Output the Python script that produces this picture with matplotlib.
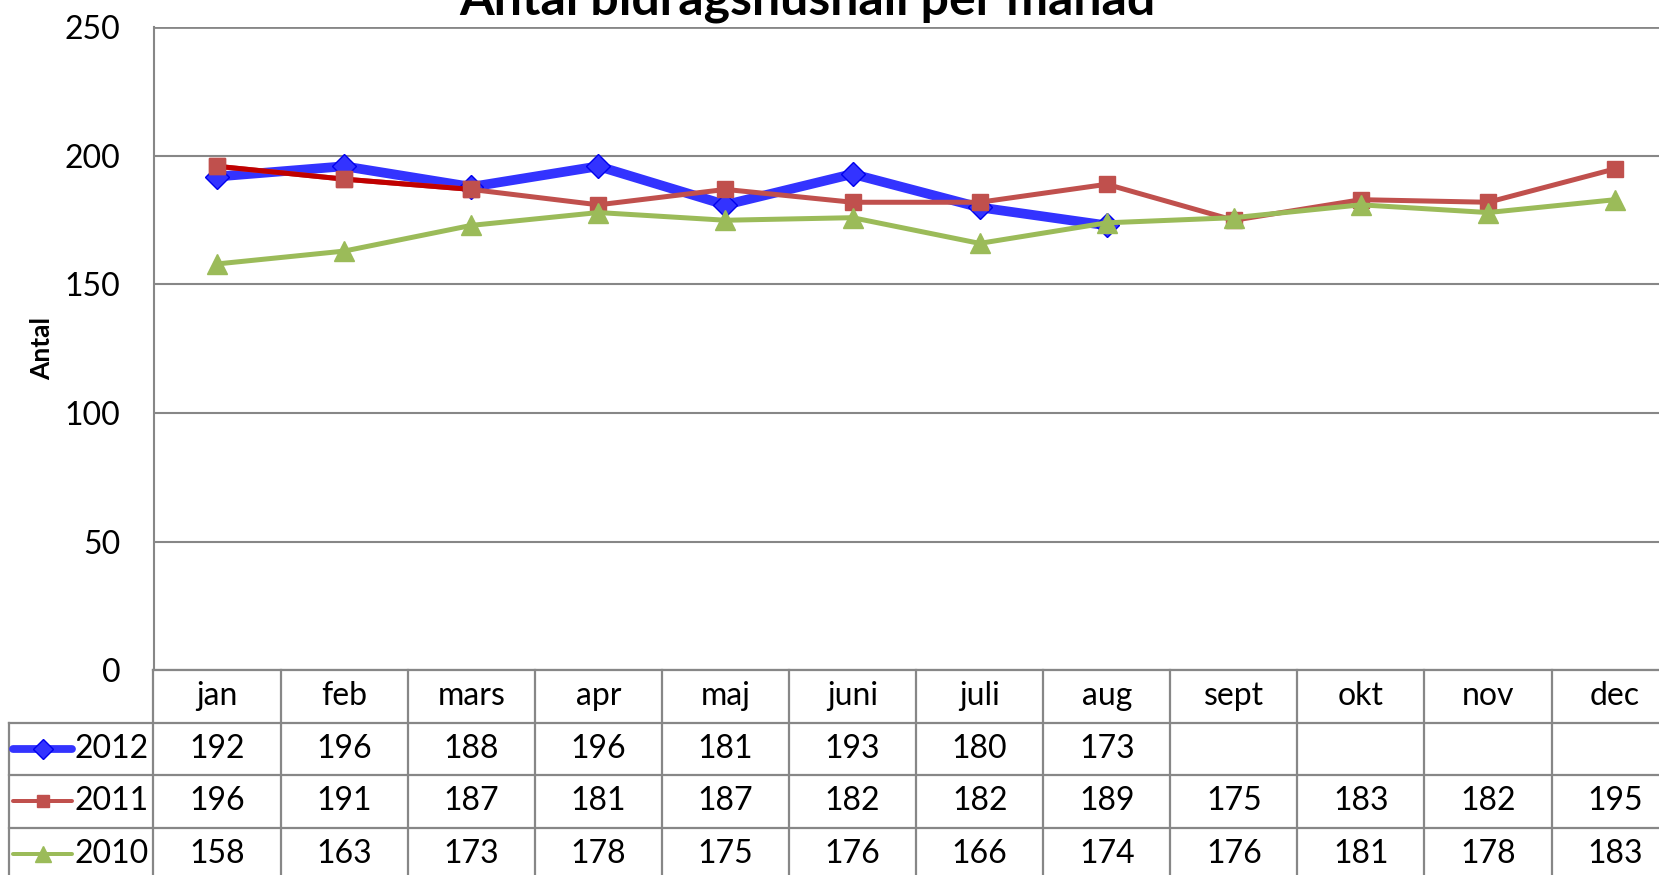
import numpy as np
import matplotlib
matplotlib.use("Agg")
import matplotlib.pyplot as plt

# data
manader = ["jan", "feb", "mars", "apr", "maj", "juni", "juli", "aug", "sept", "okt", "nov", "dec"]
ar = ["2012", "2011", "2010"]
v2012 = [192, 196, 188, 196, 181, 193, 180, 173, None, None, None, None]
v2011 = [196, 191, 187, 181, 187, 182, 182, 189, 175, 183, 182, 195]
v2010 = [158, 163, 173, 178, 175, 176, 166, 174, 176, 181, 178, 183]
y_ticks = [0, 50, 100, 150, 200, 250]

plt.rcParams['font.family'] = ['Lato', 'DejaVu Sans']

W, H = 1659, 875
fig = plt.figure(figsize=(W / 100, H / 100), dpi=100)
fig.patch.set_facecolor("white")


def ruta(x0, x1, ytop, ybot):
    # pixelkoordinater -> figurkoordinater
    return [x0 / W, 1 - ybot / H, (x1 - x0) / W, (ybot - ytop) / H]


grid_farg = "#878787"
kolumn = 127.1
vx0 = 153.5
vx1 = vx0 + 12 * kolumn

# stilar per serie
stilar = {
    "2012": dict(color="#3333FF", lw=7.0, marker="D", ms=12, mfc="#3333FF", mec="#0000EE", zorder=3),
    "2011": dict(color="#C0504D", lw=3.6, marker="s", ms=11, mfc="#C0504D", mec="#C0504D", zorder=4),
    "2010": dict(color="#9BBB59", lw=3.6, marker="^", ms=14, mfc="#9BBB59", mec="#9BBB59", zorder=5),
}
serier = {"2012": v2012, "2011": v2011, "2010": v2010}

ax = fig.add_axes(ruta(vx0, vx1, 27.5, 670))
x = np.arange(len(manader))
for namn in ["2012", "2011", "2010"]:
    y = np.array([np.nan if v is None else v for v in serier[namn]], dtype=float)
    ax.plot(x, y, **stilar[namn])
# de forsta segmenten av 2011 ar morkrod
y11 = np.array(v2011[:3], dtype=float)
ax.plot(x[:3], y11, color="#C00000", lw=3.6, zorder=4.1)
ax.plot(x[:3], y11, ls="none", marker="s", ms=11, mfc="#C0504D", mec="#C0504D", zorder=4.2)

ax.set_xlim(-0.5, 11.5)
ax.set_ylim(0, 250)
ax.set_yticks(y_ticks)
ax.set_xticks([])
ax.tick_params(axis="y", length=0, pad=24, labelsize=23)
ax.yaxis.grid(True, color=grid_farg, lw=1.5)
ax.set_axisbelow(True)
for s in ["top", "right", "bottom"]:
    ax.spines[s].set_visible(False)
ax.spines["left"].set_color(grid_farg)
ax.spines["left"].set_linewidth(1.5)
ax.axhline(250, color=grid_farg, lw=2, zorder=1)

fig.text(42 / W, 1 - 349 / H, "Antal", rotation=90, ha="center", va="center",
         fontsize=19, fontweight="bold")
fig.text(807 / W, 1 - 16 / H, "Antal bidragshushåll per månad", ha="center", va="baseline",
         fontsize=36, fontweight="bold")

# datatabell under diagrammet
tx0 = 9.5
tab = fig.add_axes(ruta(tx0, vx1, 670, 880))
xmin = -0.5 - (vx0 - tx0) / kolumn
tab.set_xlim(xmin, 11.5)
tab.set_ylim(4, 0)
tab.axis("off")

lk = dict(color=grid_farg, lw=1.6, clip_on=False)
tab.plot([-0.5, 11.5], [0, 0], **lk)
for r in [1, 2, 3, 4]:
    tab.plot([xmin, 11.5], [r, r], **lk)
tab.plot([xmin, xmin], [1, 4], **lk)
for c in range(12):
    tab.plot([c - 0.5, c - 0.5], [0, 4], **lk)

for i, m in enumerate(manader):
    tab.text(i, 0.5, m, ha="center", va="center", fontsize=23)

for r, namn in enumerate(ar, start=1):
    st = stilar[namn]
    kx0 = -0.5 - (vx0 - 13) / kolumn
    kx1 = -0.5 - (vx0 - 72) / kolumn
    tab.plot([kx0, kx1], [r + 0.5, r + 0.5], color=st["color"], lw=st["lw"] * 0.8,
             solid_capstyle="round", clip_on=False)
    tab.plot([(kx0 + kx1) / 2], [r + 0.5], ls="none", marker=st["marker"], ms=st["ms"] * 0.85,
             mfc=st["mfc"], mec=st["mec"], clip_on=False)
    tab.text(-0.5 - (vx0 - 75) / kolumn, r + 0.5, namn, ha="left", va="center", fontsize=23)
    for i, v in enumerate(serier[namn]):
        if v is not None:
            tab.text(i, r + 0.5, str(v), ha="center", va="center", fontsize=23)

fig.savefig("out.png", dpi=100)
